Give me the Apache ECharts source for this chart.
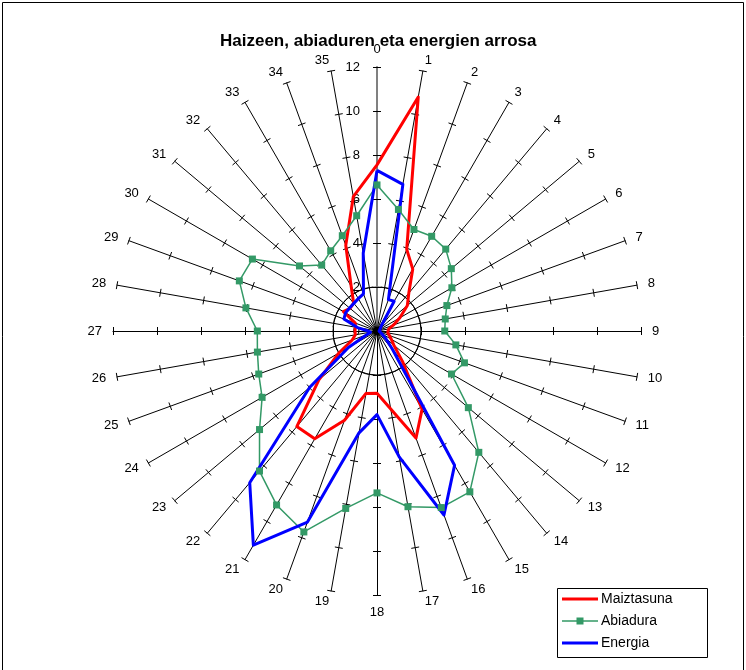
<!DOCTYPE html>
<html>
<head>
<meta charset="utf-8">
<script src="https://cdn.jsdelivr.net/npm/echarts@6/dist/echarts.min.js"></script>
<style>html,body{margin:0;padding:0;background:#fff}#c{width:746px;height:670px}</style>
</head>
<body>
<div id="c"></div>
<script>
// Wind direction sectors (0..35, clockwise from north)
const directions = ['0','1','2','3','4','5','6','7','8','9','10','11','12','13','14','15','16','17',
                    '18','19','20','21','22','23','24','25','26','27','28','29','30','31','32','33','34','35'];
// Radial axis tick labels
const radialTicks = [0, 2, 4, 6, 8, 10, 12];
// Series (values per direction 0..35)
const maiztasuna = [7.55, 10.8, 3.95, 3.25, 2.25, 1.8, 1.2, 0.8, 0.55, 0.5, 0.5, 0.6, 0.75, 1.0, 1.8, 4.1, 5.18, 3.6,
                    2.83, 2.88, 4.32, 5.66, 5.67, 3.45, 2.0, 1.2, 1.0, 1.0, 1.0, 1.05, 1.77, 1.6, 1.65, 2.35, 4.15, 6.2];
const abiadura   = [6.64, 5.61, 4.91, 4.97, 4.86, 4.41, 3.93, 3.38, 3.15, 3.08, 3.64, 4.23, 3.91, 5.42, 7.2, 8.44, 8.54, 8.11,
                    7.36, 8.19, 9.72, 9.13, 8.31, 6.97, 6.03, 5.72, 5.52, 5.44, 6.05, 6.66, 6.54, 4.6, 3.91, 4.21, 4.61, 5.32];
const energia    = [7.3, 6.77, 1.52, 1.56, 0.3, 0.2, 0.15, 0.15, 0.1, 0.1, 0.1, 0.15, 0.25, 0.5, 1.1, 7.05, 8.9, 5.81,
                    3.8, 4.7, 9.24, 11.24, 9.0, 4.0, 1.5, 0.5, 0.3, 0.4, 0.9, 1.6, 1.65, 1.63, 1.64, 1.7, 1.8, 3.6];
const seriesNames = ['Maiztasuna', 'Abiadura', 'Energia'];

const FONT = 'Liberation Sans, Arial, sans-serif';
const n = directions.length;
// ECharts radar runs counter-clockwise; reorder so directions run clockwise
const order = directions.map((d, i) => (n - i) % n);
const reorder = arr => order.map(k => arr[k]);
const maxV = radialTicks[radialTicks.length - 1];
const minV = radialTicks[0];
const splitN = radialTicks.length - 1;

const ind0 = order.map((k, i) => {
  const o = { name: directions[k], min: minV, max: maxV };
  if (i === 0) {
    o.axisLabel = { show: true };
    o.axisLine = { lineStyle: { color: '#808080', width: 2 } };
  }
  return o;
});
const ind1 = order.map(k => ({ name: directions[k], min: minV, max: maxV }));

const ringColors = radialTicks.map((t, i) => i === 1 ? '#000' : 'rgba(0,0,0,0)');

const chart = echarts.init(document.getElementById('c'), null, { renderer: 'canvas' });
chart.setOption({
  backgroundColor: '#fff',
  animation: false,
  title: {
    text: 'Haizeen, abiaduren eta energien arrosa',
    left: 220, top: 33, padding: 0,
    textStyle: { fontSize: 17, fontWeight: 'bold', color: '#000', fontFamily: FONT }
  },
  legend: {
    orient: 'vertical', left: 562, top: 592, padding: 0,
    itemWidth: 36, itemHeight: 12, itemGap: 8,
    selectedMode: false,
    textStyle: { fontSize: 14, color: '#000', fontFamily: FONT, padding: [0, 0, 0, -2] },
    data: [
      { name: seriesNames[0], icon: 'path://M0,0L36,0L36,3L0,3Z' },
      { name: seriesNames[1], icon: 'path://M0,2.9L36,2.9L36,4.4L0,4.4Z M14.5,0.15L21.5,0.15L21.5,7.15L14.5,7.15Z' },
      { name: seriesNames[2], icon: 'path://M0,0L36,0L36,3L0,3Z' }
    ]
  },
  graphic: [
    { type: 'rect', shape: { x: 2.5, y: 2.5, width: 741, height: 680 }, style: { fill: 'none', stroke: '#000', lineWidth: 1 }, silent: true, z: -10 },
    { type: 'rect', shape: { x: 557.5, y: 588.5, width: 150, height: 69 }, style: { fill: '#fff', stroke: '#000', lineWidth: 1 }, silent: true, z: -1 }
  ],
  radar: [{
    center: [377, 331], radius: 264, startAngle: 90, shape: 'circle', splitNumber: splitN,
    indicator: ind0,
    nameGap: 11,
    axisName: { color: '#000', fontSize: 13, fontFamily: FONT },
    axisLine: { show: true, lineStyle: { color: '#000', width: 1 } },
    axisTick: { show: true, length: 4, lineStyle: { color: '#000', width: 1 } },
    axisLabel: { show: false, color: '#000', fontSize: 13, fontFamily: FONT, margin: 17 },
    splitLine: { show: true, lineStyle: { color: ringColors, width: 1 } },
    splitArea: { show: false }
  }, {
    center: [377, 331], radius: 264, startAngle: 90, shape: 'circle', splitNumber: splitN,
    indicator: ind1,
    axisName: { show: false },
    axisLine: { show: true, lineStyle: { color: 'rgba(0,0,0,0)', width: 1 } },
    axisTick: { show: true, inside: false, length: -4, lineStyle: { color: '#000', width: 1 } },
    axisLabel: { show: false },
    splitLine: { show: false },
    splitArea: { show: false },
    silent: true
  }],
  series: [{
    type: 'radar', radarIndex: 0, z: 3,
    data: [
      { name: seriesNames[0], value: reorder(maiztasuna), symbol: 'none',
        lineStyle: { color: '#ff0000', width: 3 }, itemStyle: { color: '#ff0000' } },
      { name: seriesNames[1], value: reorder(abiadura), symbol: 'rect', symbolSize: 7,
        lineStyle: { color: '#339966', width: 1.5 }, itemStyle: { color: '#339966' } },
      { name: seriesNames[2], value: reorder(energia), symbol: 'none',
        lineStyle: { color: '#0000ff', width: 3 }, itemStyle: { color: '#0000ff' } }
    ]
  }]
});
</script>
</body>
</html>
